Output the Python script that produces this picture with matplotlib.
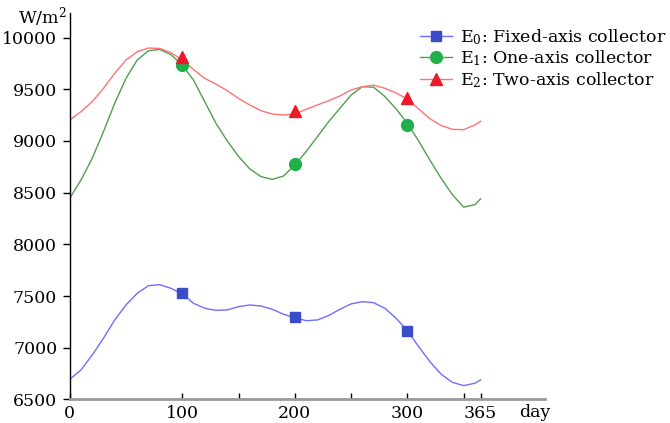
import matplotlib
matplotlib.use("Agg")
import matplotlib.pyplot as plt

plt.rcParams['font.family'] = ['DejaVu Serif']
plt.rcParams['mathtext.fontset'] = 'dejavuserif'

# values (day -> W/m2)
days = [0, 10, 20, 30, 40, 50, 60, 70, 80, 90, 100, 110, 120, 130, 140, 150, 160, 170,
        180, 190, 200, 210, 220, 230, 240, 250, 260, 270, 280, 290, 300, 310, 320, 330,
        340, 350, 360, 365]
e0 = [6695, 6785, 6930, 7092, 7269, 7414, 7527, 7601, 7610, 7575, 7520, 7430, 7382,
      7362, 7366, 7398, 7414, 7404, 7372, 7324, 7291, 7262, 7269, 7311, 7372, 7424,
      7446, 7436, 7382, 7285, 7166, 7011, 6866, 6744, 6666, 6634, 6657, 6689]
e1 = [8445, 8622, 8832, 9090, 9364, 9605, 9783, 9873, 9885, 9835, 9734, 9589, 9380,
      9170, 9000, 8850, 8730, 8655, 8629, 8661, 8768, 8896, 9041, 9186, 9315, 9444,
      9525, 9520, 9430, 9310, 9170, 9000, 8816, 8639, 8480, 8360, 8385, 8440]
e2 = [9202, 9283, 9380, 9509, 9654, 9783, 9863, 9899, 9895, 9854, 9783, 9692, 9605,
      9550, 9486, 9412, 9348, 9293, 9261, 9251, 9261, 9306, 9348, 9389, 9435, 9493,
      9525, 9540, 9510, 9465, 9405, 9310, 9215, 9150, 9112, 9110, 9155, 9190]

# marker points
mark_days = [100, 200, 300]
e0_marks = [7527, 7295, 7165]
e1_marks = [9735, 8777, 9155]
e2_marks = [9809, 9293, 9418]

labels = [r'E$_0$: Fixed-axis collector', r'E$_1$: One-axis collector',
          r'E$_2$: Two-axis collector']

fig = plt.figure(figsize=(6.7, 4.23), dpi=100)
ax = fig.add_axes([0.104, 0.0556, 0.709, 0.913])

series = [
    (e0, e0_marks, '#6e6eff', '#3b4cc9', 's', 7, labels[0]),
    (e1, e1_marks, '#4ea04e', '#20b04b', 'o', 8.5, labels[1]),
    (e2, e2_marks, '#ff7272', '#ea1a2a', '^', 9, labels[2]),
]
handles = []
for vals, marks, lc, mc, mk, ms, lab in series:
    ax.plot(days, vals, color=lc, lw=1.0)
    ax.plot(mark_days, marks, ls='none', marker=mk, ms=ms, color=mc, zorder=3)
    h, = ax.plot([], [], color=lc, lw=1.0, marker=mk, ms=ms, mfc=mc, mec=mc, label=lab)
    handles.append(h)

ax.set_xlim(0, 422)
ax.set_ylim(6500, 10235)
ax.set_xticks([0, 100, 200, 300, 365])
ax.set_xticks([150, 250, 350], minor=True)
ax.set_yticks(range(6500, 10001, 500))

for s in ['top', 'right']:
    ax.spines[s].set_visible(False)
ax.spines['left'].set_linewidth(1.0)
ax.spines['bottom'].set_color('#9a9a9a')
ax.spines['bottom'].set_linewidth(2.0)

ax.tick_params(axis='x', which='both', direction='in', length=4, width=1,
               labelsize=12.5, pad=4)
ax.tick_params(axis='y', direction='out', length=5, width=1, labelsize=12.5, pad=4)

fig.text(535 / 670, 1 - 412 / 423, 'day', fontsize=12.5, ha='center', va='center')
fig.text(42 / 670, 1 - 17 / 423, 'W/m$^2$', fontsize=12.5, ha='center', va='center')

fig.legend(handles=handles, loc='upper left', bbox_to_anchor=(420 / 670, 1 - 27 / 423),
           frameon=False, fontsize=12.5, handlelength=1.85, handletextpad=0.45,
           labelspacing=0.1, borderpad=0, borderaxespad=0)

fig.savefig('out.png', dpi=100)
